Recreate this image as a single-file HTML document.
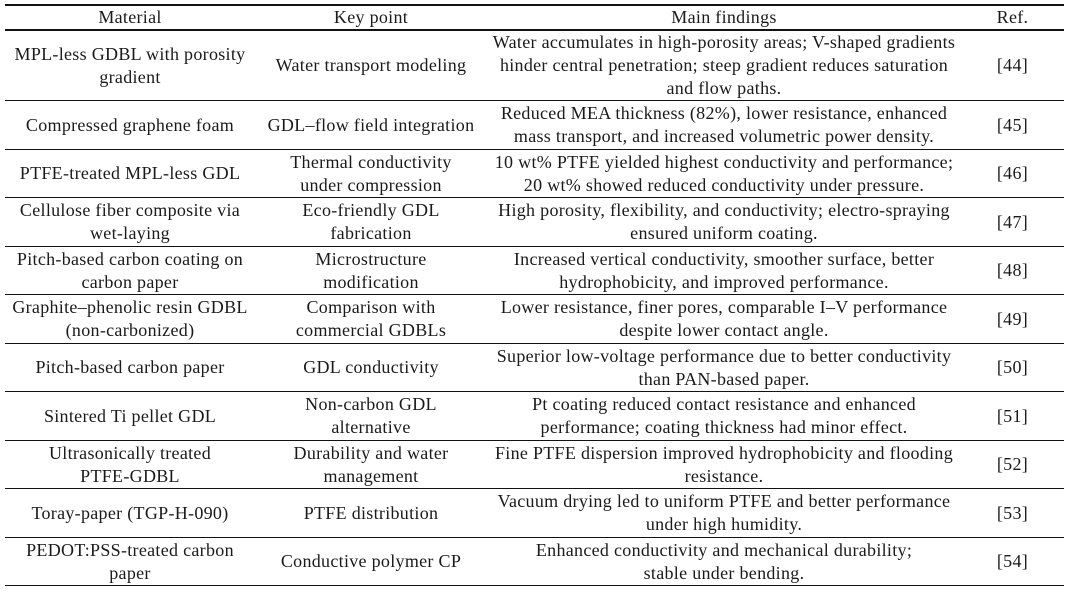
<!DOCTYPE html>
<html><head><meta charset="utf-8"><style>
body{margin:0;background:#fff;width:1068px;height:593px;overflow:hidden}
table{position:absolute;left:5px;top:4px;width:1059px;border-collapse:collapse;font-family:"Liberation Serif",serif;font-size:18px;letter-spacing:0.3px;color:#1a1a1a;table-layout:fixed}
td,th{text-align:center;vertical-align:middle;padding:0;line-height:23px;font-weight:normal;white-space:nowrap}
th{height:23px;border-top:2px solid #111;border-bottom:2px solid #111}
tr.r td{height:47px;border-bottom:1.6px solid #111}
tr.r.t td{height:48px}
tr.r1 td{height:69px;border-bottom:1.6px solid #111}
</style></head><body>
<table>
<colgroup><col style="width:250px"><col style="width:232px"><col style="width:474px"><col style="width:103px"></colgroup>
<tr><th>Material</th><th>Key point</th><th>Main findings</th><th>Ref.</th></tr>
<tr class="r1"><td>MPL-less GDBL with porosity<br>gradient</td><td>Water transport modeling</td><td>Water accumulates in high-porosity areas; V-shaped gradients<br>hinder central penetration; steep gradient reduces saturation<br>and flow paths.</td><td>[44]</td></tr>
<tr class="r t"><td>Compressed graphene foam</td><td>GDL–flow field integration</td><td>Reduced MEA thickness (82%), lower resistance, enhanced<br>mass transport, and increased volumetric power density.</td><td>[45]</td></tr>
<tr class="r"><td>PTFE-treated MPL-less GDL</td><td>Thermal conductivity<br>under compression</td><td>10 wt% PTFE yielded highest conductivity and performance;<br>20 wt% showed reduced conductivity under pressure.</td><td>[46]</td></tr>
<tr class="r t"><td>Cellulose fiber composite via<br>wet-laying</td><td>Eco-friendly GDL<br>fabrication</td><td>High porosity, flexibility, and conductivity; electro-spraying<br>ensured uniform coating.</td><td>[47]</td></tr>
<tr class="r"><td>Pitch-based carbon coating on<br>carbon paper</td><td>Microstructure<br>modification</td><td>Increased vertical conductivity, smoother surface, better<br>hydrophobicity, and improved performance.</td><td>[48]</td></tr>
<tr class="r t"><td>Graphite–phenolic resin GDBL<br>(non-carbonized)</td><td>Comparison with<br>commercial GDBLs</td><td>Lower resistance, finer pores, comparable I–V performance<br>despite lower contact angle.</td><td>[49]</td></tr>
<tr class="r"><td>Pitch-based carbon paper</td><td>GDL conductivity</td><td>Superior low-voltage performance due to better conductivity<br>than PAN-based paper.</td><td>[50]</td></tr>
<tr class="r t"><td>Sintered Ti pellet GDL</td><td>Non-carbon GDL<br>alternative</td><td>Pt coating reduced contact resistance and enhanced<br>performance; coating thickness had minor effect.</td><td>[51]</td></tr>
<tr class="r"><td>Ultrasonically treated<br>PTFE-GDBL</td><td>Durability and water<br>management</td><td>Fine PTFE dispersion improved hydrophobicity and flooding<br>resistance.</td><td>[52]</td></tr>
<tr class="r t"><td>Toray-paper (TGP-H-090)</td><td>PTFE distribution</td><td>Vacuum drying led to uniform PTFE and better performance<br>under high humidity.</td><td>[53]</td></tr>
<tr class="r"><td>PEDOT:PSS-treated carbon<br>paper</td><td>Conductive polymer CP</td><td>Enhanced conductivity and mechanical durability;<br>stable under bending.</td><td>[54]</td></tr>
</table>
</body></html>
